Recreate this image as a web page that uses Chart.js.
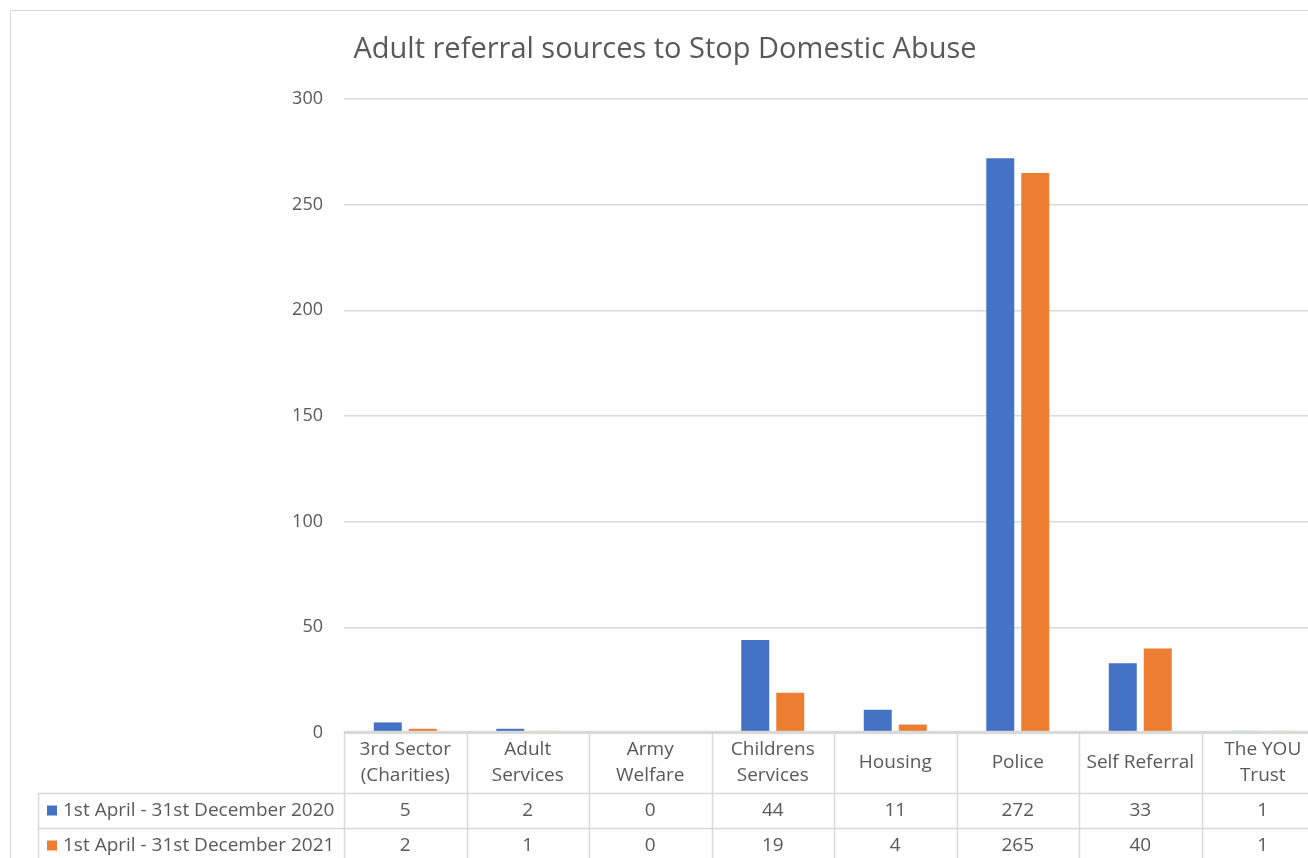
<!DOCTYPE html>
<html>
<head>
<meta charset="utf-8">
<script src="https://cdn.jsdelivr.net/npm/chart.js@4/dist/chart.umd.min.js"></script>
<style>
  html, body { margin: 0; padding: 0; background: #fff; overflow: hidden; }
  #wrap { position: relative; width: 1340px; height: 858px; }
</style>
</head>
<body>
<div id="wrap"><canvas id="c"></canvas></div>
<script>
const title = "Adult referral sources to Stop Domestic Abuse";
const categories = [["3rd Sector", "(Charities)"], ["Adult", "Services"], ["Army", "Welfare"], ["Childrens", "Services"], ["Housing"], ["Police"], ["Self Referral"], ["The YOU", "Trust"]];
const seriesNames = ["1st April - 31st December 2020", "1st April - 31st December 2021"];
const values2020 = [5, 2, 0, 44, 11, 272, 33, 1];
const values2021 = [2, 1, 0, 19, 4, 265, 40, 1];
const yTicks = [0, 50, 100, 150, 200, 250, 300];
const colors = ["#4472C4", "#ED7D31"];

const FONT = "'Open Sans', 'Noto Sans', sans-serif";
const TXT = "#595959";
const GRID = "#D9D9D9";

const tablePlugin = {
  id: "tablePlugin",
  afterDatasetsDraw(chart) {
    // baseline / table top border drawn over the bars
    const ctx = chart.ctx;
    const area = chart.chartArea;
    ctx.save();
    ctx.fillStyle = GRID;
    ctx.fillRect(area.left, area.bottom - 2.2, area.right - area.left, 3.2);
    ctx.restore();
  },
  afterDraw(chart) {
    const ctx = chart.ctx;
    const x = chart.scales.x;
    const area = chart.chartArea;
    const n = categories.length;
    const colW = (area.right - area.left) / n;
    const top = area.bottom;
    const r1 = top + 60, r2 = r1 + 35, bottom = 900;
    const legendLeft = 38;
    ctx.save();
    // outer frame
    ctx.strokeStyle = GRID;
    ctx.lineWidth = 1;
    ctx.strokeRect(10.5, 10.5, 1500, 1000);
    // title
    ctx.fillStyle = TXT;
    ctx.font = "29px " + FONT;
    ctx.textAlign = "center";
    ctx.textBaseline = "middle";
    ctx.fillText(title, 665, 50);
    // table grid
    ctx.strokeStyle = GRID;
    ctx.lineWidth = 1.5;
    ctx.beginPath();
    for (let i = 0; i <= n; i++) {
      const xx = Math.round(area.left + i * colW) + 0.5;
      ctx.moveTo(xx, top); ctx.lineTo(xx, bottom);
    }
    ctx.moveTo(legendLeft + 0.5, r1); ctx.lineTo(legendLeft + 0.5, bottom);
    ctx.moveTo(legendLeft, r1 + 0.5); ctx.lineTo(area.right, r1 + 0.5);
    ctx.moveTo(legendLeft, r2 + 0.5); ctx.lineTo(area.right, r2 + 0.5);
    ctx.stroke();
    // header text
    ctx.fillStyle = TXT;
    ctx.font = "19px " + FONT;
    ctx.textAlign = "center";
    ctx.textBaseline = "middle";
    categories.forEach((lab, i) => {
      const cx = x.getPixelForValue(i);
      const lines = lab;
      const lh = 26;
      const y0 = (top + r1) / 2 - (lines.length - 1) * lh / 2;
      lines.forEach((l, j) => ctx.fillText(l, cx, y0 + j * lh));
    });
    // values
    const rows = [values2020, values2021];
    const rowY = [(r1 + r2) / 2, r2 + 17.5];
    rows.forEach((vals, r) => {
      vals.forEach((v, i) => {
        ctx.fillText(String(v), x.getPixelForValue(i), rowY[r]);
      });
      // legend
      ctx.fillStyle = colors[r];
      ctx.fillRect(47, rowY[r] - 5, 10, 10);
      ctx.fillStyle = TXT;
      ctx.textAlign = "left";
      ctx.fillText(seriesNames[r], 63, rowY[r]);
      ctx.textAlign = "center";
    });
    ctx.restore();
  }
};

new Chart(document.getElementById("c"), {
  type: "bar",
  data: {
    labels: categories,
    datasets: [
      { label: seriesNames[0], data: values2020, backgroundColor: colors[0], categoryPercentage: 0.571, barPercentage: 0.8 },
      { label: seriesNames[1], data: values2021, backgroundColor: colors[1], categoryPercentage: 0.571, barPercentage: 0.8 }
    ]
  },
  options: {
    responsive: true,
    maintainAspectRatio: false,
    animation: false,
    layout: { padding: { top: 99, bottom: 125, left: 0, right: 16 } },
    plugins: { legend: { display: false }, title: { display: false }, tooltip: { enabled: false } },
    scales: {
      x: { display: false },
      y: {
        min: 0, max: 300,
        afterBuildTicks(s) { s.ticks = yTicks.map(v => ({ value: v })); },
        afterFit(s) { s.width = 344; },
        border: { display: false },
        grid: { color: GRID, lineWidth: 1.5, drawTicks: false },
        ticks: { color: TXT, font: { size: 18, family: FONT }, padding: 21 }
      }
    }
  },
  plugins: [tablePlugin]
});
</script>
</body>
</html>
